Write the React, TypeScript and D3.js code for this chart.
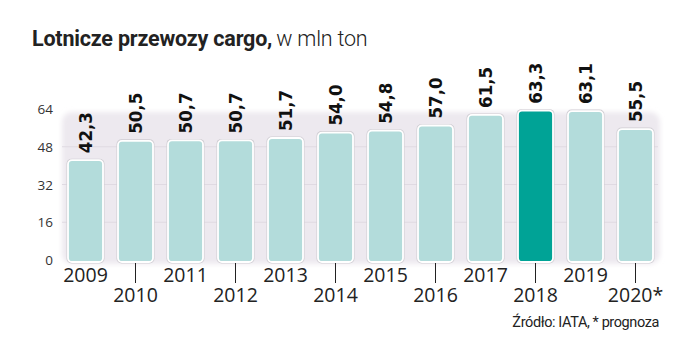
import React from 'react'
import * as d3 from 'd3'

const years = ['2009', '2010', '2011', '2012', '2013', '2014', '2015', '2016', '2017', '2018', '2019', '2020*']
const cargo = [42.3, 50.5, 50.7, 50.7, 51.7, 54.0, 54.8, 57.0, 61.5, 63.3, 63.1, 55.5]
const yTicks = [0, 16, 32, 48, 64]
const highlightYear = '2018'

const W = 699
const H = 362

const fmt = (v: number) => d3.format('.1f')(v).replace('.', ',')

export default function App() {
    const x = d3.scaleBand().domain(years).range([60.5, 660.5]).paddingInner(0.3).paddingOuter(0.15)
    const y = d3.scaleLinear().domain([0, 64]).range([260, 109])
    const bw = x.bandwidth()

    const panelTop = y(64) + 3
    const panelBottom = y(0) + 4

    return (
        <svg width={W} height={H} style={{ position: 'absolute', left: 0, top: 0, background: '#fff' }}>
            <defs>
                <filter id="soft" x="-5%" y="-10%" width="110%" height="120%">
                    <feGaussianBlur stdDeviation="2.5" />
                </filter>
            </defs>

            {/* title */}
            <text x={32} y={46} fontFamily="Roboto" fontSize={21.5} fill="#222" letterSpacing={-0.2}>
                <tspan fontWeight={700}>Lotnicze przewozy cargo,</tspan>
                <tspan fontWeight={300} dx={4}>w mln ton</tspan>
            </text>

            {/* panel */}
            <rect x={62} y={panelTop} width={598} height={panelBottom - panelTop} rx={10} fill="#ede9ef" filter="url(#soft)" />

            {/* gridlines */}
            {yTicks.filter(t => t > 0 && t < 64).map(t => (
                <line key={t} x1={62} x2={658} y1={y(t)} y2={y(t)} stroke="#dfdae2" strokeWidth={1} />
            ))}

            {/* y labels */}
            {yTicks.map(t => (
                <text key={t} x={53} y={y(t) + 5} textAnchor="end" fontFamily="Open Sans" fontSize={13.5} fill="#333">
                    {t}
                </text>
            ))}

            {/* bars */}
            {years.map((yr, i) => {
                const bx = x(yr) as number
                const top = y(cargo[i])
                const h = y(0) + 2 - top
                return (
                    <g key={yr}>
                        <rect x={bx - 1.5} y={top - 1.5} width={bw + 3} height={h + 3} rx={5} fill="#cfccd2" />
                        <rect x={bx} y={top} width={bw} height={h} rx={4} fill={yr === highlightYear ? '#00a396' : '#b3dcdb'} stroke="#fff" strokeWidth={1.8} />
                        <text
                            transform={`translate(${bx + bw / 2 + 6.5}, ${top - 7}) rotate(-90)`}
                            fontFamily="DejaVu Sans Condensed"
                            fontWeight={700}
                            fontSize={18.5}
                            fill="#111"
                        >
                            {fmt(cargo[i])}
                        </text>
                    </g>
                )
            })}

            {/* x labels */}
            {years.map((yr, i) => {
                const cx = (x(yr) as number) + bw / 2
                const low = i % 2 === 1
                return (
                    <g key={yr}>
                        {low && <line x1={cx} x2={cx} y1={263} y2={283} stroke="#222" strokeWidth={1} />}
                        <text x={cx} y={low ? 302 : 282} textAnchor="middle" fontFamily="Open Sans" fontSize={19.5} fill="#222">
                            {yr}
                        </text>
                    </g>
                )
            })}

            {/* source */}
            <text x={659} y={327} textAnchor="end" fontFamily="Roboto" fontSize={14.5} letterSpacing={-0.4} fill="#222">
                Źródło: IATA, * prognoza
            </text>
        </svg>
    )
}
